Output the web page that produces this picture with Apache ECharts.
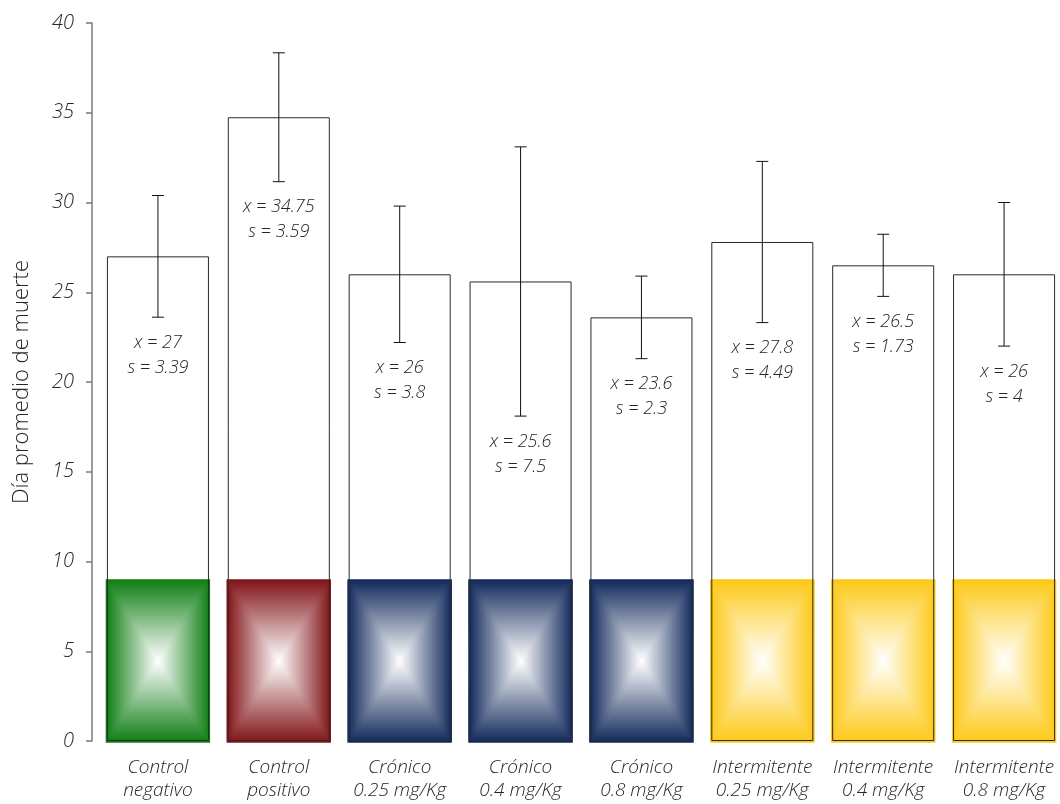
<!DOCTYPE html>
<html>
<head>
<meta charset="utf-8">
<script src="https://cdn.jsdelivr.net/npm/echarts@6/dist/echarts.min.js"></script>
<style>
html,body{margin:0;padding:0;background:#fff;}
#chart{width:1060px;height:804px;}
</style>
</head>
<body>
<div id="chart"></div>
<script>
// ---- data ----
const categories = ['Control\nnegativo', 'Control\npositivo', 'Crónico\n0.25 mg/Kg', 'Crónico\n0.4 mg/Kg', 'Crónico\n0.8 mg/Kg', 'Intermitente\n0.25 mg/Kg', 'Intermitente\n0.4 mg/Kg', 'Intermitente\n0.8 mg/Kg'];
const means = [27, 34.75, 26, 25.6, 23.6, 27.8, 26.5, 26];
const sds = [3.39, 3.59, 3.8, 7.5, 2.3, 4.49, 1.73, 4];
const baseBlock = [9, 9, 9, 9, 9, 9, 9, 9];
const yTicks = [0, 5, 10, 15, 20, 25, 30, 35, 40];

// ---- styles ----
const groupColors = ['#0d7d12', '#801216', '#10285a', '#10285a', '#10285a', '#fdc814', '#fdc814', '#fdc814'];
const FONT = '"Open Sans", sans-serif';
const FW = 300;
const TXT = '#262626';

const chart = echarts.init(document.getElementById('chart'), null, {renderer: 'canvas'});

function grad(x1, y1, x2, y2, c) {
  return new echarts.graphic.LinearGradient(x1, y1, x2, y2, [
    {offset: 0, color: c}, {offset: 1, color: '#ffffff'}
  ]);
}

const option = {
  backgroundColor: '#ffffff',
  animation: false,
  grid: {left: 97.5, width: 967, top: 23, bottom: 63, outerBoundsMode: 'none', containLabel: false},
  xAxis: {
    type: 'category',
    data: categories,
    axisLine: {show: false},
    axisTick: {show: false},
    axisLabel: {
      interval: 0, margin: 15, fontFamily: FONT, fontStyle: 'italic', fontWeight: FW,
      fontSize: 19, lineHeight: 23, color: TXT
    }
  },
  yAxis: {
    type: 'value',
    min: yTicks[0], max: yTicks[yTicks.length - 1], interval: 5,
    offset: 5.5,
    name: 'Día promedio de muerte',
    nameLocation: 'middle',
    nameGap: 59,
    nameTextStyle: {fontFamily: FONT, fontWeight: FW, fontSize: 22, color: TXT},
    axisLine: {show: true, lineStyle: {color: '#7a7a7a', width: 1.5}},
    axisTick: {show: true, inside: false, length: 6, lineStyle: {color: '#7a7a7a', width: 1.5}},
    axisLabel: {margin: 18, fontFamily: FONT, fontStyle: 'italic', fontWeight: FW, fontSize: 20, color: TXT},
    splitLine: {show: false}
  },
  series: [
    {
      // coloured gradient blocks at the bottom of each bar
      type: 'custom',
      z: 2,
      data: baseBlock.map((h, i) => [i, h]),
      renderItem: function (params, api) {
        const i = api.value(0), h = api.value(1);
        const p0 = api.coord([i, 0]);
        const p1 = api.coord([i, h]);
        const bw = api.size([1, 0])[0] * 0.862;
        const x0 = p0[0] - bw / 2, x1 = p0[0] + bw / 2;
        const yT = p1[1], yB = p0[1] + 1.5;
        const cx = p0[0], cy = (yT + yB) / 2;
        const c = groupColors[params.dataIndex];
        return {
          type: 'group',
          children: [
            {type: 'rect', shape: {x: x0, y: yT, width: x1 - x0, height: yB - yT},
              style: {fill: new echarts.graphic.RadialGradient(0.5, 0.5, 0.6, [{offset: 0, color: '#fff'}, {offset: 1, color: c}])}},
            {type: 'polygon', shape: {points: [[x0, yT], [x1, yT], [cx, cy]]}, style: {fill: grad(0, 0, 0, 1, c)}},
            {type: 'polygon', shape: {points: [[x0, yB], [x1, yB], [cx, cy]]}, style: {fill: grad(0, 1, 0, 0, c)}},
            {type: 'polygon', shape: {points: [[x0, yT], [x0, yB], [cx, cy]]}, style: {fill: grad(0, 0, 1, 0, c)}},
            {type: 'polygon', shape: {points: [[x1, yT], [x1, yB], [cx, cy]]}, style: {fill: grad(1, 0, 0, 0, c)}}
          ]
        };
      }
    },
    {
      type: 'bar',
      z: 3,
      data: means,
      barWidth: '84.4%',
      itemStyle: {color: 'rgba(255,255,255,0)', borderColor: '#2a2a2a', borderWidth: 1}
    },
    {
      // error bars
      type: 'custom',
      z: 4,
      data: means.map((m, i) => [i, m, sds[i]]),
      renderItem: function (params, api) {
        const i = api.value(0), m = api.value(1), s = api.value(2);
        const top = api.coord([i, m + s]);
        const bot = api.coord([i, m - s]);
        const hw = 6;
        const st = {stroke: '#111', lineWidth: 1};
        return {
          type: 'group',
          children: [
            {type: 'line', shape: {x1: top[0], y1: top[1], x2: bot[0], y2: bot[1]}, style: st},
            {type: 'line', shape: {x1: top[0] - hw, y1: top[1], x2: top[0] + hw, y2: top[1]}, style: st},
            {type: 'line', shape: {x1: bot[0] - hw, y1: bot[1], x2: bot[0] + hw, y2: bot[1]}, style: st}
          ]
        };
      }
    },
    {
      // mean / sd annotations below the lower whisker
      type: 'custom',
      z: 5,
      data: means.map((m, i) => [i, m, sds[i]]),
      renderItem: function (params, api) {
        const i = api.value(0), m = api.value(1), s = api.value(2);
        const bot = api.coord([i, m - s]);
        return {
          type: 'text',
          x: bot[0], y: bot[1] + 38,
          style: {
            text: 'x = ' + m + '\ns = ' + s,
            align: 'center', verticalAlign: 'middle',
            font: 'italic ' + FW + ' 18px ' + FONT,
            lineHeight: 25,
            fill: TXT
          }
        };
      }
    }
  ]
};
chart.setOption(option);
</script>
</body>
</html>
